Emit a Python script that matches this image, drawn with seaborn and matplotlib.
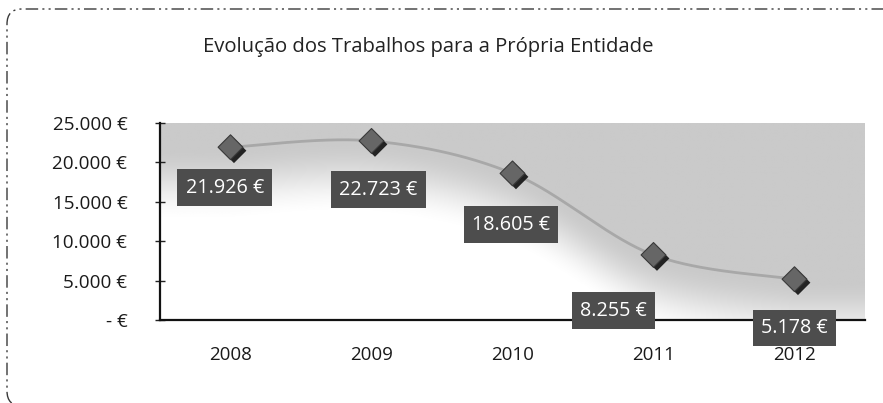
import numpy as np
import pandas as pd
import matplotlib
matplotlib.use("Agg")
import matplotlib.pyplot as plt
import matplotlib.patheffects as pe
from matplotlib.patches import FancyBboxPatch
from matplotlib.transforms import IdentityTransform
import seaborn as sns

# ---- data -------------------------------------------------------------
anos = ["2008", "2009", "2010", "2011", "2012"]
valores = [21926, 22723, 18605, 8255, 5178]
rotulos = ["21.926 €", "22.723 €", "18.605 €", "8.255 €", "5.178 €"]
y_ticks = [0, 5000, 10000, 15000, 20000, 25000]
y_tick_labels = ["- €", "5.000 €", "10.000 €", "15.000 €", "20.000 €", "25.000 €"]
titulo = "Evolução dos Trabalhos para a Própria Entidade"

# ---- layout -----------------------------------------------------------
W, H, DPI = 883, 403, 100
label_offsets = [(-4, -29), (5, -35), (-1, -37), (-29, -40), (0, -35)]  # points

sns.set_style("white")
plt.rcParams["font.family"] = ["Open Sans", "DejaVu Sans"]

fig = plt.figure(figsize=(W / DPI, H / DPI), dpi=DPI)
fig.patch.set_facecolor("white")

ax = fig.add_axes([160 / W, 1 - 320 / H, 705 / W, 197 / H])

x_idx = np.arange(len(anos), dtype=float)
y_val = np.asarray(valores, dtype=float)


def smooth_curve(xs, ys, n=60):
    """Cubic Bezier smoothing through the points (Catmull-Rom style)."""
    P = np.column_stack([xs, ys])
    Pe = np.vstack([P[0], P, P[-1]])
    t = np.linspace(0, 1, n)[:, None]
    parts = []
    for i in range(len(P) - 1):
        p0, p1, p2, p3 = Pe[i], Pe[i + 1], Pe[i + 2], Pe[i + 3]
        c1 = p1 + (p2 - p0) / 6
        c2 = p2 - (p3 - p1) / 6
        seg = (1 - t) ** 3 * p1 + 3 * (1 - t) ** 2 * t * c1 + 3 * (1 - t) * t ** 2 * c2 + t ** 3 * p2
        parts.append(seg if i == 0 else seg[1:])
    return np.vstack(parts)


curve = smooth_curve(x_idx, y_val)
cx, cy = curve[:, 0], curve[:, 1]

# shaded plot area: grey above the trend, fading softly to white beneath it
xe = np.concatenate([[-0.5], cx, [4.5]])
ye = np.concatenate([[y_val[0]], cy, [y_val[-1]]])
gx = np.linspace(-0.5, 4.5, 700)
gy = np.linspace(0, 25000, 400)
cv = np.interp(gx, xe, ye)
dist = cv[None, :] - gy[:, None]
grey, fade = 0.79, 9500.0
ramp = np.clip(dist / fade, 0, 1)
ramp = ramp * ramp * (3 - 2 * ramp)
shade = grey + (1 - grey) * ramp
ax.imshow(shade, extent=[-0.5, 4.5, 0, 25000], origin="lower", aspect="auto",
          cmap="gray", vmin=0, vmax=1, zorder=0, interpolation="bilinear")

# smoothed trend line
df_line = pd.DataFrame({"x": cx, "y": cy})
sns.lineplot(data=df_line, x="x", y="y", sort=False, color="#a8a8a8", lw=2.0,
             ax=ax, zorder=2)

# diamond markers with a dark drop shadow
df_pts = pd.DataFrame({"x": x_idx, "y": y_val})
sns.scatterplot(data=df_pts, x="x", y="y", marker="D", s=160, color="#666666",
                edgecolor="#3a3a3a", linewidth=0.8, ax=ax, zorder=4)
ax.collections[-1].set_path_effects([
    pe.SimplePatchShadow(offset=(2.5, -2.5), shadow_rgbFace="#111111", alpha=0.9),
    pe.Normal(),
])

# value labels
for xi, yi, txt, off in zip(x_idx, y_val, rotulos, label_offsets):
    ax.annotate(txt, (xi, yi), xytext=off, textcoords="offset points",
                ha="center", va="center", color="white", fontsize=14.2,
                bbox=dict(boxstyle="square,pad=0.42", fc="#4d4d4d", ec="none"),
                zorder=6)

# axes
ax.set_xlim(-0.5, 4.5)
ax.set_ylim(0, 25000)
ax.set_xlabel("")
ax.set_ylabel("")
ax.set_xticks(np.arange(-0.5, 5.0, 1.0))
ax.set_xticklabels([])
ax.set_xticks(x_idx, minor=True)
ax.set_xticklabels(anos, minor=True)
ax.tick_params(axis="x", which="major", direction="out", length=5, width=1, color="#222222")
ax.tick_params(axis="x", which="minor", length=0, pad=19, labelsize=13.5, labelcolor="#1a1a1a")
ax.set_yticks(y_ticks)
ax.set_yticklabels(y_tick_labels)
ax.tick_params(axis="y", direction="inout", length=7, width=1, pad=20,
               labelsize=13.6, labelcolor="#1a1a1a", color="#222222", left=True)
for side in ("top", "right"):
    ax.spines[side].set_visible(False)
for side in ("left", "bottom"):
    ax.spines[side].set_color("#111111")
    ax.spines[side].set_linewidth(1.6)
    ax.spines[side].set_zorder(5)

# title
fig.text(428 / W, 1 - 47 / H, titulo, ha="center", va="center",
         fontsize=14.6, color="#222222")

# rounded dash-dot chart frame
frame = FancyBboxPatch((7, -3), 920, 397, boxstyle="round,pad=0,rounding_size=15",
                       transform=IdentityTransform(), fill=False, ec="#3a3a3a",
                       lw=1.0, ls=(0, (9, 3, 1.5, 3, 1.5, 3)))
fig.patches.append(frame)

fig.savefig("out.png", dpi=DPI, facecolor="white")
